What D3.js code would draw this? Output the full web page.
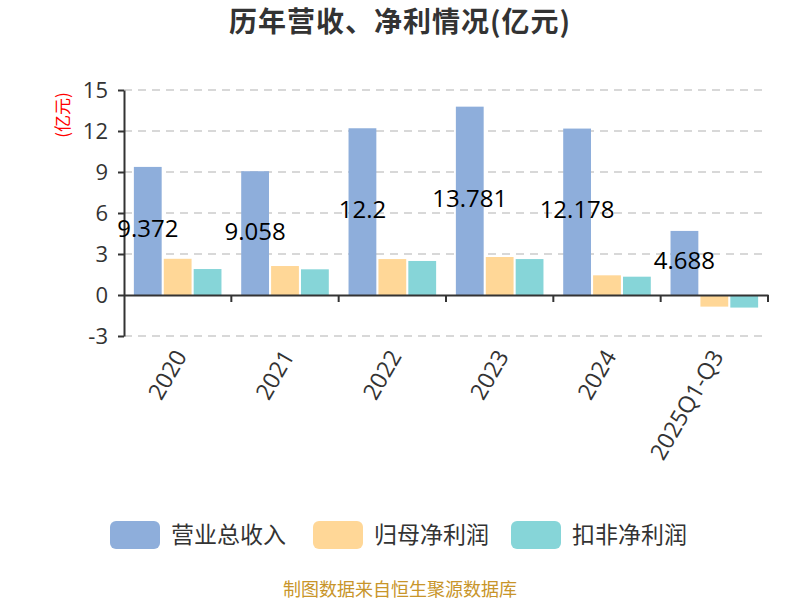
<!DOCTYPE html>
<html>
<head>
<meta charset="utf-8">
<script src="https://cdn.jsdelivr.net/npm/d3@7"></script>
<style>
  body { margin: 0; background: #fff; }
  text { font-family: "Noto Sans CJK SC", "Noto Sans", sans-serif; }
</style>
</head>
<body>
<div id="chart"></div>
<script>
// data
var years = ["2020", "2021", "2022", "2023", "2024", "2025Q1-Q3"];
var revenue = [9.372, 9.058, 12.2, 13.781, 12.178, 4.688];
var netProfit = [2.65, 2.12, 2.63, 2.78, 1.44, -0.85];
var deductedProfit = [1.9, 1.88, 2.49, 2.63, 1.34, -0.92];
var seriesNames = ["营业总收入", "归母净利润", "扣非净利润"];
var yTicks = [-3, 0, 3, 6, 9, 12, 15];

var colors = ["#8eaedb", "#ffd797", "#86d5d8"];
var width = 800, height = 600;
var margin = {left: 124, right: 32, top: 90, bottom: 264};

var svg = d3.select("#chart").append("svg")
    .attr("width", width)
    .attr("height", height);

// title
svg.append("text")
    .attr("x", width / 2)
    .attr("y", 32)
    .attr("text-anchor", "middle")
    .attr("font-size", 28)
    .attr("letter-spacing", 1)
    .attr("font-weight", "bold")
    .attr("fill", "#333")
    .text("历年营收、净利情况(亿元)");

var x = d3.scaleBand()
    .domain(years)
    .range([margin.left, width - margin.right]);

var x1 = d3.scaleBand()
    .domain(d3.range(3))
    .range([0, x.bandwidth()])
    .paddingInner(0.07)
    .paddingOuter(0.33);

var y = d3.scaleLinear()
    .domain([-3, 15])
    .range([height - margin.bottom, margin.top]);

// grid lines
svg.append("g")
    .selectAll("line")
    .data(yTicks.filter(function (d) { return d !== 0; }))
    .enter().append("line")
    .attr("x1", margin.left)
    .attr("x2", width - margin.right)
    .attr("y1", function (d) { return y(d); })
    .attr("y2", function (d) { return y(d); })
    .attr("stroke", "#ccc")
    .attr("stroke-width", 1.5)
    .attr("stroke-dasharray", "8,6");

// y axis
var yAxis = svg.append("g")
    .attr("transform", "translate(" + margin.left + ",0)")
    .call(d3.axisLeft(y).tickValues(yTicks).tickSize(6).tickSizeOuter(0));
yAxis.select(".domain").attr("stroke", "#333").attr("stroke-width", 2);
yAxis.selectAll(".tick line").attr("stroke", "#333").attr("stroke-width", 2);
yAxis.selectAll(".tick text")
    .attr("font-size", 22)
    .attr("fill", "#333")
    .attr("x", -16)
    .style("font-family", "'Open Sans', 'Noto Sans', sans-serif")
    .text(function (d) { return d < 0 ? "-" + Math.abs(d) : d; });

// y axis name
svg.append("text")
    .attr("transform", "translate(69,115) rotate(-90)")
    .attr("text-anchor", "middle")
    .attr("font-size", 17)
    .attr("fill", "red")
    .text("(亿元)");

// bars
var table = years.map(function (yr, i) {
    return [revenue[i], netProfit[i], deductedProfit[i]];
});

var groups = svg.append("g")
    .selectAll("g")
    .data(table)
    .enter().append("g")
    .attr("transform", function (d, i) { return "translate(" + x(years[i]) + ",0)"; });

groups.selectAll("rect")
    .data(function (d) { return d; })
    .enter().append("rect")
    .attr("x", function (d, j) { return x1(j); })
    .attr("width", x1.bandwidth())
    .attr("y", function (d) { return y(Math.max(0, d)); })
    .attr("height", function (d) { return Math.abs(y(d) - y(0)); })
    .attr("fill", function (d, j) { return colors[j]; });

// revenue labels, placed in the middle of the bar
groups.append("text")
    .attr("x", x1(0) + x1.bandwidth() / 2)
    .attr("y", function (d) { return (y(d[0]) + y(0)) / 2 - 2; })
    .attr("dy", "0.35em")
    .attr("text-anchor", "middle")
    .attr("font-size", 24)
    .attr("fill", "#000")
    .style("font-family", "'Open Sans', 'Noto Sans', sans-serif")
    .text(function (d) { return d[0]; });

// x axis at zero
var xAxis = svg.append("g")
    .attr("transform", "translate(0," + y(0) + ")")
    .call(d3.axisBottom(x).tickSize(0).tickSizeOuter(0));
xAxis.select(".domain").attr("stroke", "#333").attr("stroke-width", 2);
xAxis.selectAll(".tick text").remove();

// boundary ticks
svg.append("g")
    .selectAll("line")
    .data(years.slice(1).concat(["end"]))
    .enter().append("line")
    .attr("x1", function (d) { return d === "end" ? width - margin.right : x(d); })
    .attr("x2", function (d) { return d === "end" ? width - margin.right : x(d); })
    .attr("y1", y(0))
    .attr("y2", y(0) + 7)
    .attr("stroke", "#333")
    .attr("stroke-width", 2);

// rotated category labels
svg.append("g")
    .selectAll("text")
    .data(years)
    .enter().append("text")
    .attr("transform", function (d) {
        return "translate(" + (x(d) + x.bandwidth() / 2 + 3) + "," + (y(-3) + 16) + ") rotate(-60)";
    })
    .attr("text-anchor", "end")
    .attr("dy", "0.35em")
    .attr("font-size", 23)
    .attr("fill", "#333")
    .style("font-family", "'Open Sans', 'Noto Sans', sans-serif")
    .text(function (d) { return d; });

// legend
var legendX = [110, 313, 511];
var legend = svg.append("g")
    .selectAll("g")
    .data(seriesNames)
    .enter().append("g")
    .attr("transform", function (d, i) { return "translate(" + legendX[i] + ",521)"; });

legend.append("rect")
    .attr("width", 50)
    .attr("height", 28)
    .attr("rx", 6)
    .attr("fill", function (d, i) { return colors[i]; });

legend.append("text")
    .attr("x", 61)
    .attr("y", 14)
    .attr("dy", "0.35em")
    .attr("font-size", 23)
    .attr("fill", "#333")
    .text(function (d) { return d; });

// source note
svg.append("text")
    .attr("x", width / 2)
    .attr("y", 596)
    .attr("text-anchor", "middle")
    .attr("font-size", 18)
    .attr("fill", "#c8952a")
    .text("制图数据来自恒生聚源数据库");
</script>
</body>
</html>
